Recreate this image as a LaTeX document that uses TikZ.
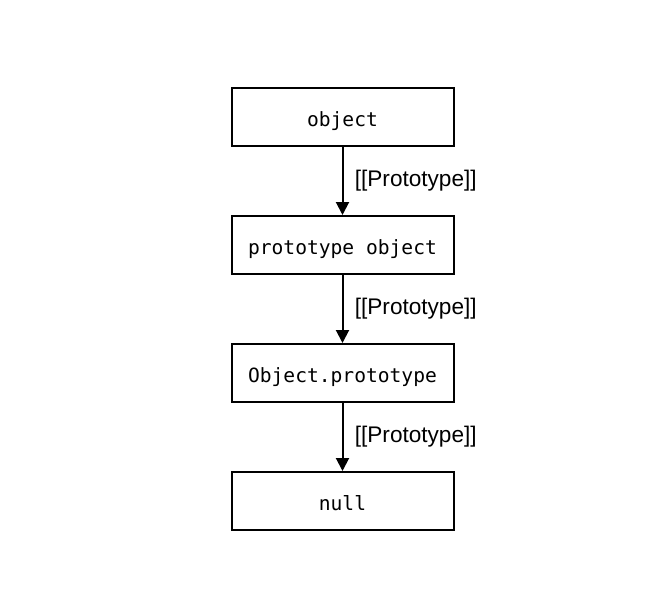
\documentclass[tikz,border=0pt]{standalone}
\usepackage{fontspec}
\setmainfont{Liberation Sans}
\setmonofont{DejaVu Sans Mono}
\usetikzlibrary{positioning, arrows.meta}
\tikzset{objbox/.style={rectangle, draw, line width=2pt, minimum width=222pt, minimum height=58pt, text height=18pt, text depth=0pt, font=\fontsize{19.6}{23}\selectfont\ttfamily}}
\tikzset{protolink/.style={line width=2pt, -{Triangle[width=13pt,length=13pt]}}}
\tikzset{protolabel/.style={right=8pt, font=\fontsize{22.6}{26}\selectfont}}

\begin{document}
\begin{tikzpicture}[x=1pt, y=-1pt]
\useasboundingbox (0,0) rectangle (657,589);

\node [objbox] (obj) at (342.5, 117) {object};
\node [objbox, below=68pt of obj] (proto) {prototype object};
\node [objbox, below=68pt of proto] (objproto) {Object.prototype};
\node [objbox, below=68pt of objproto] (null) {null};

\draw [protolink] (obj) -- node [protolabel] {[[Prototype]]} (proto);
\draw [protolink] (proto) -- node [protolabel] {[[Prototype]]} (objproto);
\draw [protolink] (objproto) -- node [protolabel] {[[Prototype]]} (null);

\end{tikzpicture}
\end{document}
